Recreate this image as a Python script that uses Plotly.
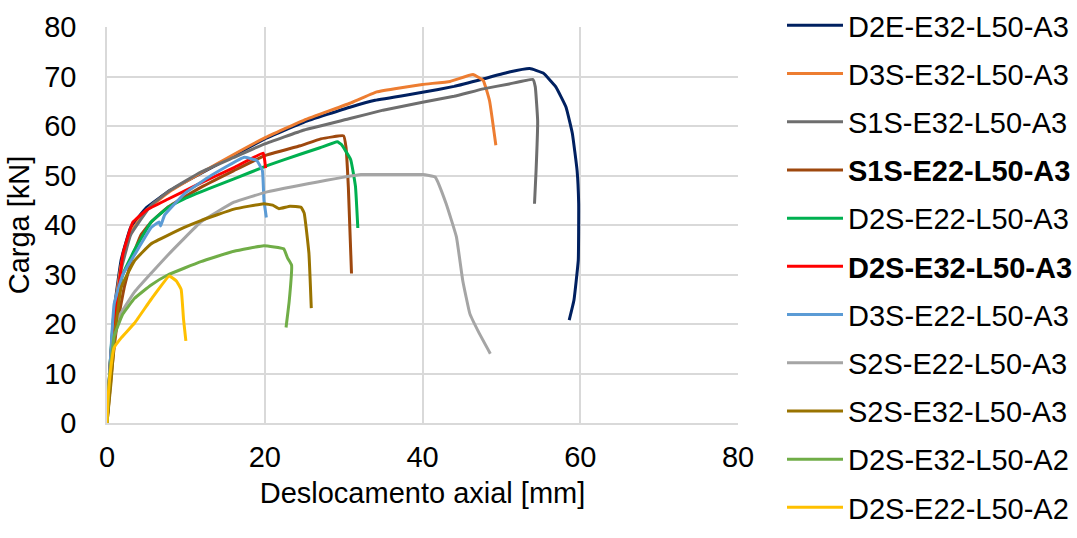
import plotly.graph_objects as go

# ---- data ----
names = ["D2E-E32-L50-A3", "D3S-E32-L50-A3", "S1S-E32-L50-A3", "<b>S1S-E22-L50-A3</b>",
         "D2S-E22-L50-A3", "<b>D2S-E32-L50-A3</b>", "D3S-E22-L50-A3", "S2S-E22-L50-A3",
         "S2S-E32-L50-A3", "D2S-E32-L50-A2", "D2S-E22-L50-A2"]
colors = ["#002060", "#ED7D31", "#6E6E6E", "#9E480E", "#00B050", "#FF0000",
          "#5B9BD5", "#A5A5A5", "#997300", "#70AD47", "#FFC000"]

d2e_e32_x = [0, 0.4, 1.0, 1.8, 3.0, 5.0, 8.0, 12.0, 16.0, 20.0, 25.0, 30.8, 34.0, 40.0, 44.0, 47.7, 51.0, 53.6, 55.3, 56.9, 58.2, 59.0, 59.6, 59.8, 59.75, 59.2, 58.6]
d2e_e32_y = [0, 12.0, 24.0, 33.0, 39.5, 43.5, 47.0, 50.5, 54.0, 57.4, 60.8, 63.8, 65.2, 66.8, 68.0, 69.5, 70.9, 71.6, 70.7, 67.9, 63.8, 58.5, 51.0, 44.3, 32.9, 24.8, 20.8]

d3s_e32_x = [0, 0.4, 1.0, 1.8, 3.0, 5.0, 8.0, 12.0, 16.0, 20.0, 25.0, 30.8, 34.2, 40.0, 43.5, 46.4, 47.7, 48.5, 49.3]
d3s_e32_y = [0, 11.5, 23.5, 32.0, 38.5, 43.0, 46.8, 50.6, 54.2, 57.6, 61.2, 64.6, 66.9, 68.4, 69.0, 70.4, 69.2, 65.1, 56.1]

s1s_e32_x = [0, 0.4, 1.0, 1.8, 3.0, 5.6, 8.0, 11.9, 16.0, 20.0, 25.0, 30.8, 35.0, 40.0, 44.0, 47.7, 51.0, 54.0, 54.3, 54.6, 54.4, 54.2]
s1s_e32_y = [0, 11.0, 22.0, 31.0, 38.0, 44.0, 47.0, 50.7, 53.6, 56.4, 59.2, 61.5, 63.2, 64.8, 66.0, 67.5, 68.5, 69.4, 67.9, 61.0, 51.0, 44.3]

s1s_e22_x = [0, 0.5, 1.2, 2.2, 3.2, 4.3, 5.6, 7.7, 11.9, 16.1, 20.0, 24.5, 27.1, 30.0, 30.3, 30.6, 31.0]
s1s_e22_y = [0, 9.0, 19.0, 27.5, 33.5, 38.0, 40.6, 43.6, 47.6, 51.0, 54.0, 56.0, 57.4, 58.0, 55.7, 47.6, 30.2]

d2s_e22_x = [0, 0.4, 0.9, 2.0, 3.5, 5.6, 7.7, 9.8, 13.0, 16.1, 20.3, 24.5, 27.0, 29.2, 29.7, 30.9, 31.5, 31.8]
d2s_e22_y = [0, 12.0, 22.5, 30.0, 35.0, 40.6, 43.5, 45.3, 47.4, 49.3, 52.0, 54.3, 55.6, 56.8, 56.3, 53.2, 47.8, 39.4]

d2s_e32_x = [0, 0.5, 1.35, 2.0, 3.25, 5.0, 7.7, 11.9, 16.1, 19.8, 20.0, 20.1]
d2s_e32_y = [0, 14.0, 25.0, 34.0, 40.5, 43.0, 45.2, 48.5, 51.6, 54.5, 53.0, 51.5]

d3s_e22_x = [0, 0.4, 0.9, 2.0, 3.5, 5.6, 6.6, 6.8, 7.3, 9.8, 13.2, 17.4, 19.0, 19.7, 19.9, 20.2]
d3s_e22_y = [0, 12.0, 24.0, 30.0, 34.0, 39.5, 40.6, 39.8, 42.0, 46.3, 50.0, 53.7, 53.0, 51.0, 45.0, 41.5]

s2s_e22_x = [0, 0.5, 1.35, 3.5, 7.7, 11.9, 16.1, 20.3, 26.7, 32.2, 36.0, 40.0, 41.6, 43.0, 44.3, 45.1, 46.0, 47.2, 48.6]
s2s_e22_y = [0, 12.0, 21.0, 26.5, 33.9, 40.6, 44.6, 46.7, 48.7, 50.2, 50.2, 50.2, 49.7, 44.3, 37.6, 28.8, 22.1, 18.1, 14.0]

s2s_e32_x = [0, 0.5, 1.0, 1.8, 3.5, 5.6, 9.8, 11.9, 16.1, 19.9, 21.0, 21.8, 23.2, 24.6, 25.0, 25.6, 25.9]
s2s_e32_y = [0, 8.0, 18.0, 27.4, 32.8, 36.2, 39.5, 40.9, 43.2, 44.3, 44.0, 43.3, 43.8, 43.6, 42.4, 34.3, 23.2]

d2s_e32_a2_x = [0, 0.3, 0.9, 2.0, 3.5, 5.6, 7.7, 11.9, 16.1, 19.9, 22.4, 22.9, 23.4, 23.1, 22.7]
d2s_e32_a2_y = [0, 9.0, 17.5, 22.0, 25.2, 27.9, 29.9, 32.6, 34.7, 35.8, 35.2, 33.3, 31.9, 24.6, 19.3]

d2s_e22_a2_x = [0, 0.1, 0.4, 0.9, 1.8, 3.5, 5.6, 7.9, 8.8, 9.4, 9.7, 10.0]
d2s_e22_a2_y = [0, 4.0, 10.0, 15.2, 17.2, 20.2, 25.0, 29.7, 28.7, 27.0, 21.0, 16.6]

xs = [d2e_e32_x, d3s_e32_x, s1s_e32_x, s1s_e22_x, d2s_e22_x, d2s_e32_x,
      d3s_e22_x, s2s_e22_x, s2s_e32_x, d2s_e32_a2_x, d2s_e22_a2_x]
ys = [d2e_e32_y, d3s_e32_y, s1s_e32_y, s1s_e22_y, d2s_e22_y, d2s_e32_y,
      d3s_e22_y, s2s_e22_y, s2s_e32_y, d2s_e32_a2_y, d2s_e22_a2_y]

x_ticks = [0, 20, 40, 60, 80]
y_ticks = [0, 10, 20, 30, 40, 50, 60, 70, 80]

fig = go.Figure()
for i, (n, c, x, y) in enumerate(zip(names, colors, xs, ys)):
    fig.add_trace(go.Scatter(x=x, y=y, name=n, mode="lines",
                             line=dict(color=c, width=3, shape="spline", smoothing=0.3),
                             legendgroup=f"g{i}"))

font_family = "Liberation Sans, Arial, sans-serif"
FS = 29
fig.update_layout(
    width=1077, height=538,
    margin=dict(l=107, r=339, t=27, b=115),
    paper_bgcolor="white", plot_bgcolor="white",
    font=dict(family=font_family, size=FS, color="#000000"),
    xaxis=dict(range=[0, 80], tickvals=x_ticks, showgrid=True, gridcolor="#D9D9D9",
               gridwidth=1.5, zeroline=False, showline=True, linecolor="#D9D9D9",
               linewidth=1.5, ticks="", ticklabelstandoff=7,
               title=dict(text="Deslocamento axial [mm]", font=dict(size=FS), standoff=11),
               tickfont=dict(size=FS)),
    yaxis=dict(range=[0, 80], tickvals=y_ticks, showgrid=True, gridcolor="#D9D9D9",
               gridwidth=1.5, zeroline=False, showline=True, linecolor="#D9D9D9",
               linewidth=1.5, ticks="", ticklabelstandoff=23,
               title=dict(text="Carga [kN]", font=dict(size=FS), standoff=6),
               tickfont=dict(size=FS)),
    legend=dict(xref="container", yref="container", x=782 / 1077, y=1.0,
                xanchor="left", yanchor="top", font=dict(size=FS),
                traceorder="grouped", tracegroupgap=7.5, itemwidth=56,
                maxheight=1.0, bgcolor="rgba(0,0,0,0)"),
    showlegend=True,
)

fig.write_html("out.html")
